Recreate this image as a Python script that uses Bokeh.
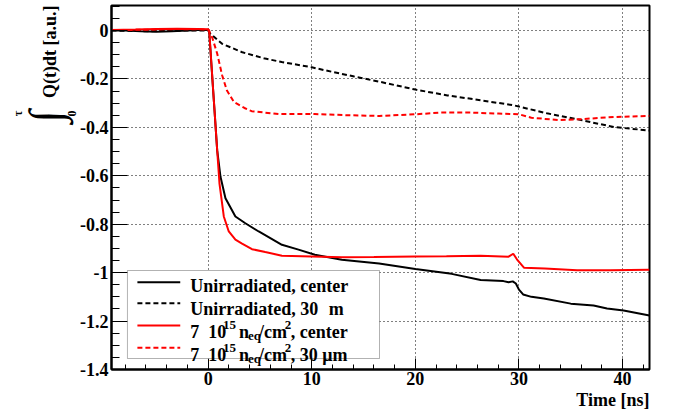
import math
from bokeh.plotting import figure
from bokeh.layouts import row
from bokeh.models import (FixedTicker, CustomJSTickFormatter, BasicTickFormatter, Label,
                          BoxAnnotation, Range1d, Title, LinearAxis, Grid)
from bokeh.embed import file_html
from bokeh.resources import INLINE

# ---------------- data ----------------
t_unirr_center = [-9.33, -8, -6.5, -5, -3.5, -2, -1, 0, 0.1, 0.55, 0.87, 1.19, 1.67, 2.63, 3.59,
                  4.88, 7.12, 8.72, 10.3, 12.9, 16.5, 20, 23.5, 26.3, 28.5, 29.0, 29.4, 29.7,
                  30.0, 30.4, 31.2, 32.4, 35.0, 37.2, 38.5, 40.1, 42.6]
q_unirr_center = [0, 0, -0.003, -0.005, -0.003, 0, 0.002, 0.002, -0.005, -0.29, -0.494, -0.604,
                  -0.693, -0.768, -0.796, -0.83, -0.885, -0.905, -0.926, -0.947, -0.962, -0.985,
                  -1.005, -1.03, -1.035, -1.04, -1.036, -1.045, -1.07, -1.09, -1.10, -1.107,
                  -1.128, -1.136, -1.148, -1.156, -1.177]

t_unirr_30um = [-9.33, -6, -4, -2, 0, 0.2, 1.35, 3.3, 5.5, 7.1, 10, 11.9, 14.1, 16.7, 20, 23.1,
                26.3, 29.5, 32.7, 36, 39.2, 42.6]
q_unirr_30um = [0, -0.003, -0.002, 0, 0, -0.012, -0.055, -0.09, -0.116, -0.13, -0.152, -0.17,
                -0.19, -0.213, -0.244, -0.268, -0.288, -0.309, -0.342, -0.37, -0.399, -0.413]

t_irr_center = [-9.33, -7, -5, -3, -1, 0, 0.1, 0.55, 0.87, 1.09, 1.51, 1.99, 2.63, 3.27, 4.23,
                5.51, 7.12, 10.0, 12.9, 16, 20, 23, 26.3, 29.0, 29.45, 29.8, 30.5, 32.5, 35.6,
                38.8, 42.6]
q_irr_center = [0.002, 0.004, 0.006, 0.007, 0.006, 0.005, 0, -0.29, -0.494, -0.631, -0.768,
                -0.83, -0.864, -0.88, -0.903, -0.915, -0.93, -0.933, -0.936, -0.935, -0.933,
                -0.932, -0.93, -0.934, -0.922, -0.945, -0.98, -0.983, -0.99, -0.99, -0.988]

t_irr_30um = [-9.33, -6, -3, -1, 0, 0.4, 0.87, 1.35, 1.8, 2.5, 3.5, 4.2, 6.8, 10.3, 13.6, 16.5,
              20, 22.5, 25.4, 28, 30, 31.2, 33.8, 36, 39.2, 42.6]
q_irr_30um = [0.002, 0.003, 0.006, 0.005, 0.004, -0.03, -0.095, -0.185, -0.247, -0.296, -0.32,
              -0.333, -0.345, -0.345, -0.35, -0.353, -0.346, -0.339, -0.339, -0.343, -0.346,
              -0.36, -0.37, -0.366, -0.357, -0.353]

x_ticks = [0, 10, 20, 30, 40]
x_minor = [-8, -6, -4, -2, 2, 4, 6, 8, 12, 14, 16, 18, 22, 24, 26, 28, 32, 34, 36, 38, 42]
y_ticks = [-1.4, -1.2, -1.0, -0.8, -0.6, -0.4, -0.2, 0.0]
y_minor = [-1.35, -1.3, -1.25, -1.15, -1.1, -1.05, -0.95, -0.9, -0.85, -0.75, -0.7, -0.65,
           -0.55, -0.5, -0.45, -0.35, -0.3, -0.25, -0.15, -0.1, -0.05, 0.05, 0.1]

x_title = "Time [ns]"
y_title = "Q(t)dt [a.u.]"

# ---------------- layout (page pixels) ----------------
W, H = 675, 414
LW = 77                       # width of the strip holding the y title
FL, FR, FT, FB = 109, 649, 5, 369
X0, X1 = -9.33, 42.6
Y0, Y1 = -1.4, 0.1033
FONT = "Liberation Serif"

def rx(px):
    return X0 + (px - FL) / (FR - FL) * (X1 - X0)

def ry(py):
    return Y1 - (py - FT) / (FB - FT) * (Y1 - Y0)

# ---------- strip with the y-axis title (frame aligned with the main frame) ----------
lf = figure(width=LW, height=H, x_range=Range1d(0, LW), y_range=Range1d(FB, FT), title=None,
            output_backend="svg", toolbar_location=None, x_axis_type=None, y_axis_type=None,
            min_border=0, min_border_left=0, min_border_right=0, min_border_top=FT,
            min_border_bottom=H - FB)
lf.outline_line_color = None
lf.background_fill_color = "white"
lf.border_fill_color = "white"

def lf_label(x, y, text, size=18, angle=0.0, align="left", baseline="alphabetic"):
    lf.add_layout(Label(x=x, y=y, text=text, text_font=FONT, text_font_style="bold",
                        text_font_size=f"{size}px", text_color="black", angle=angle,
                        text_align=align, text_baseline=baseline))

lf_label(49, 5, y_title, angle=math.pi / 2, align="right", baseline="middle")
lf_label(45, 116, "\u222b", size=46, angle=math.pi / 2, align="center", baseline="middle")
lf_label(17, 113, "\u03c4", size=12, angle=math.pi / 2, align="center", baseline="middle")
lf_label(71, 113, "0", size=12, angle=math.pi / 2, align="center", baseline="middle")

# ---------- main plot ----------
p = figure(width=W - LW, height=H, x_range=Range1d(X0, X1), y_range=Range1d(Y0, Y1), title=None,
           output_backend="svg", toolbar_location=None, x_axis_type=None, y_axis_type=None,
           min_border_left=FL - LW, min_border_right=W - FR, min_border_top=FT,
           min_border_bottom=H - FB)

p.background_fill_color = "white"
p.border_fill_color = "white"
p.outline_line_color = "black"
p.outline_line_width = 2

xticker = FixedTicker(ticks=x_ticks, minor_ticks=x_minor)
yticker = FixedTicker(ticks=y_ticks, minor_ticks=y_minor)

axis_style = dict(axis_line_color="black", axis_line_width=2,
                  major_tick_line_color="black", minor_tick_line_color="black",
                  major_tick_line_width=1, minor_tick_line_width=1,
                  major_tick_out=0, minor_tick_out=0,
                  major_label_text_font=FONT, major_label_text_font_style="bold",
                  major_label_text_font_size="18px", major_label_text_color="black")

xaxis = LinearAxis(ticker=xticker, formatter=BasicTickFormatter(),
                   major_tick_in=11, minor_tick_in=5, major_label_standoff=2, **axis_style)
yaxis = LinearAxis(ticker=yticker,
                   formatter=CustomJSTickFormatter(code="return (Math.round(tick*10)/10).toString();"),
                   major_tick_in=16, minor_tick_in=8, major_label_standoff=3, **axis_style)
p.add_layout(xaxis, "below")
p.add_layout(yaxis, "left")

grid_style = dict(grid_line_color="black", grid_line_width=1, grid_line_dash="1 3")
p.add_layout(Grid(dimension=0, ticker=xticker, **grid_style))
p.add_layout(Grid(dimension=1, ticker=yticker, **grid_style))

p.add_layout(Title(text=x_title, align="right", text_font=FONT, text_font_style="bold",
                   text_font_size="18px", text_color="black", standoff=0), "below")

# ---------------- curves ----------------
p.line(t_unirr_center, q_unirr_center, line_color="black", line_width=2)
p.line(t_unirr_30um, q_unirr_30um, line_color="black", line_width=2, line_dash="5 3")
p.line(t_irr_center, q_irr_center, line_color="#ff0000", line_width=2)
p.line(t_irr_30um, q_irr_30um, line_color="#ff0000", line_width=2, line_dash="5 3")

# ---------------- legend ----------------
def add_label(x, y, text, size=18):
    p.add_layout(Label(x=x, y=y, text=text, text_font=FONT, text_font_style="bold",
                       text_font_size=f"{size}px", text_color="black",
                       text_align="left", text_baseline="alphabetic"))

p.add_layout(BoxAnnotation(left=rx(125), right=rx(378), top=ry(270), bottom=ry(358),
                           fill_color="white", fill_alpha=1.0, line_color="black",
                           line_width=1))

sample_y = [281.7, 302.7, 325, 347.3]
styles = [("black", "solid"), ("black", "5 3"), ("#ff0000", "solid"), ("#ff0000", "5 3")]
for sy, (c, d) in zip(sample_y, styles):
    p.segment(x0=[rx(135)], y0=[ry(sy)], x1=[rx(178)], y1=[ry(sy)], line_color=c,
              line_width=2, line_dash=d, level="overlay")

base = [285, 308, 331, 354]
add_label(rx(188), ry(base[0]), "Unirradiated, center")
add_label(rx(188), ry(base[1]), "Unirradiated, 30")
add_label(rx(327), ry(base[1]), "m")
for i, tail in ((2, ", center"), (3, ", 30 \u03bcm")):
    b = base[i]
    add_label(rx(188), ry(b), "7")
    add_label(rx(206), ry(b), "10")
    add_label(rx(221), ry(b - 7), "15", size=13)
    add_label(rx(237), ry(b), "n")
    add_label(rx(246), ry(b + 4), "eq", size=13)
    add_label(rx(257), ry(b), "/cm")
    add_label(rx(283), ry(b - 7), "2", size=13)
    add_label(rx(289), ry(b), tail)

layout = row(lf, p, spacing=0)
open("out.html", "w").write(file_html(layout, INLINE))
